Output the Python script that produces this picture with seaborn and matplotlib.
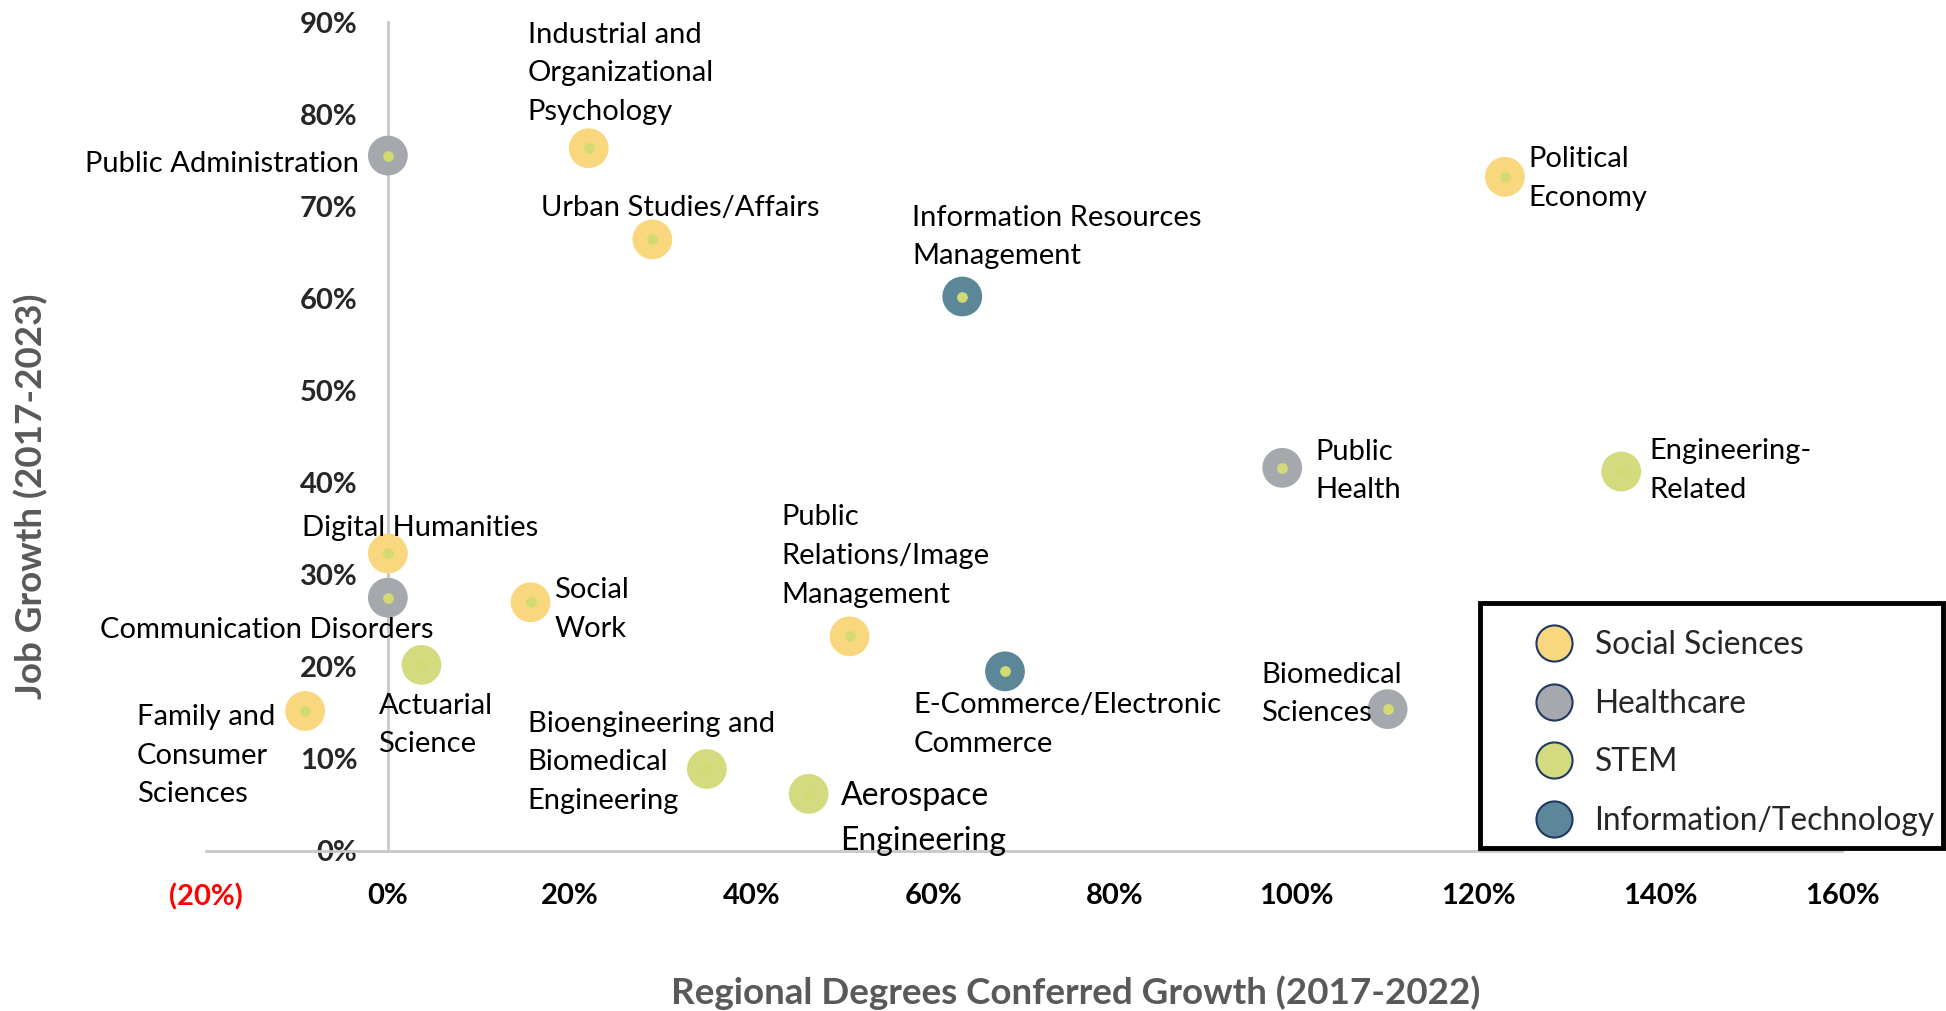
import numpy as np
import pandas as pd
import matplotlib
matplotlib.use("Agg")
import matplotlib.pyplot as plt
from matplotlib.lines import Line2D
from matplotlib.patches import Rectangle
from matplotlib.ticker import FuncFormatter
import seaborn as sns

# Data
programs = [
    "Industrial and\nOrganizational\nPsychology", "Public Administration",
    "Urban Studies/Affairs", "Information Resources\nManagement",
    "Political\nEconomy", "Public\nHealth", "Engineering-\nRelated",
    "Digital Humanities", "Communication Disorders", "Social\nWork",
    "Actuarial\nScience", "Family and\nConsumer\nSciences",
    "Public\nRelations/Image\nManagement", "E-Commerce/Electronic\nCommerce",
    "Biomedical\nSciences", "Bioengineering and\nBiomedical\nEngineering",
    "Aerospace\nEngineering",
]
degree_growth = [0.221, 0.0, 0.291, 0.632, 1.229, 0.984, 1.357, 0.0, 0.0,
                 0.157, 0.037, -0.091, 0.508, 0.679, 1.100, 0.351, 0.463]
job_growth = [0.763, 0.755, 0.664, 0.602, 0.732, 0.416, 0.412, 0.323, 0.275,
              0.270, 0.202, 0.152, 0.233, 0.195, 0.154, 0.089, 0.062]
category = ["Social Sciences", "Healthcare", "Social Sciences",
            "Information/Technology", "Social Sciences", "Healthcare", "STEM",
            "Social Sciences", "Healthcare", "Social Sciences", "STEM",
            "Social Sciences", "Social Sciences", "Information/Technology",
            "Healthcare", "STEM", "STEM"]
categories = ["Social Sciences", "Healthcare", "STEM", "Information/Technology"]
x_ticks = [-0.2, 0.0, 0.2, 0.4, 0.6, 0.8, 1.0, 1.2, 1.4, 1.6]
y_ticks = [0.0, 0.1, 0.2, 0.3, 0.4, 0.5, 0.6, 0.7, 0.8, 0.9]

# label offsets (points) from each dot: dx to text edge, dy to text top
label_offsets = [(-44, 91, "left"), (-21, 3, "right"), (-80, 32, "left"),
                 (-36, 66, "left"), (17, 22, "left"), (24, 21, "left"),
                 (20, 24, "left"), (-62, 28, "left"), (-207, -14, "left"),
                 (17, 18, "left"), (-31, -20, "left"), (-121, 5, "left"),
                 (-49, 95, "left"), (-66, -15, "left"), (-91, 34, "left"),
                 (-129, 42, "left"), (23, 9, "left")]

df = pd.DataFrame({"program": programs, "x": degree_growth,
                   "y": job_growth, "category": category})

colors = {"Social Sciences": "#F9D77E", "Healthcare": "#A5A9AD",
          "STEM": "#D4DB7E", "Information/Technology": "#5B8799"}
center_color = "#D3DA74"

sns.set_style("white")
plt.rcParams["font.family"] = ["Lato", "DejaVu Sans"]

fig = plt.figure(figsize=(19.46, 10.11), dpi=100)
ax = fig.add_axes([0.1059, 0.1583, 0.8407, 0.8199])

sns.scatterplot(data=df, x="x", y="y", hue="category", hue_order=categories,
                palette=colors, s=820, linewidth=0, legend=False, ax=ax,
                zorder=3)
ax.scatter(df["x"], df["y"], s=60, color=center_color, linewidth=0, zorder=4)

for i, row in df.iterrows():
    dx, dy, ha = label_offsets[i]
    fs = 23 if row["program"].startswith("Aerospace") else 21
    ax.annotate(row["program"], (row["x"], row["y"]), xytext=(dx, dy),
                textcoords="offset points", ha=ha, va="top",
                fontsize=fs, color="black", linespacing=1.6, zorder=5)

ax.set_xlim(-0.2, 1.6)
ax.set_ylim(0, 0.9)

ax.spines["left"].set_position(("data", 0))
for side in ["left", "bottom"]:
    ax.spines[side].set_color("#C8C8C8")
    ax.spines[side].set_linewidth(2)
ax.spines["top"].set_visible(False)
ax.spines["right"].set_visible(False)

ax.set_xticks(x_ticks)
ax.set_yticks(y_ticks)


def pct(v, pos=None):
    if v < -1e-9:
        return "({:.0f}%)".format(-v * 100)
    return "{:.0f}%".format(abs(v) * 100)


ax.xaxis.set_major_formatter(FuncFormatter(pct))
ax.yaxis.set_major_formatter(FuncFormatter(pct))
ax.tick_params(axis="both", length=0, labelsize=21)
ax.tick_params(axis="x", pad=23)
ax.tick_params(axis="y", pad=22)
for lab in ax.get_xticklabels() + ax.get_yticklabels():
    lab.set_fontweight("bold")
for lab, v in zip(ax.get_xticklabels(), x_ticks):
    lab.set_color("red" if v < 0 else "black")
ax.set_xlabel("")
ax.set_ylabel("")

fig.text(0.016, 0.509, "Job Growth (2017-2023)", rotation=90, ha="center",
         va="center", fontsize=26.5, fontweight="bold", color="#595959")
fig.text(0.553, 0.018, "Regional Degrees Conferred Growth (2017-2022)",
         ha="center", va="center", fontsize=26.5, fontweight="bold",
         color="#595959")

# legend box drawn separately so it can run to the right edge like the original
fig.patches.append(Rectangle((0.7605, 0.1612), 0.2379, 0.2423,
                             transform=fig.transFigure, fill=False,
                             edgecolor="black", linewidth=3.5, zorder=10))
handles = [Line2D([], [], marker="o", linestyle="", markersize=26,
                  markerfacecolor=colors[c], markeredgecolor="#203864",
                  markeredgewidth=1.5, label=c) for c in categories]
leg = fig.legend(handles=handles, loc="upper left",
                 bbox_to_anchor=(0.7857, 0.3764), fontsize=22.8, frameon=False,
                 labelspacing=0.9, handletextpad=0.47, borderpad=0,
                 borderaxespad=0, handlelength=1.6)

fig.savefig("out.png", dpi=100)
